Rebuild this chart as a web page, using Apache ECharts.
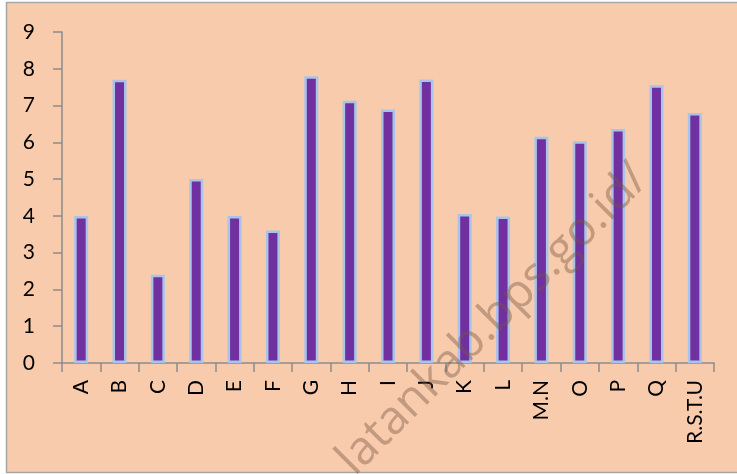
<!DOCTYPE html>
<html>
<head>
<meta charset="utf-8">
<script src="https://cdn.jsdelivr.net/npm/echarts@6/dist/echarts.min.js"></script>
<style>
html, body { margin: 0; padding: 0; background: #ffffff; }
#chart { width: 737px; height: 474px; }
</style>
</head>
<body>
<div id="chart"></div>
<script>
// categories along the x axis
const categories = ['A', 'B', 'C', 'D', 'E', 'F', 'G', 'H', 'I', 'J', 'K', 'L', 'M.N', 'O', 'P', 'Q', 'R.S.T.U'];
// bar values
const values = [4.0, 7.7, 2.4, 5.0, 4.0, 3.6, 7.8, 7.13, 6.89, 7.71, 4.05, 3.98, 6.15, 6.03, 6.36, 7.55, 6.8];
const watermark = 'latankab.bps.go.id/';

let chart = echarts.init(document.getElementById('chart'));

let option = {
    animation: false,
    backgroundColor: '#ffffff',
    graphic: [
        {
            type: 'rect',
            z: -10,
            silent: true,
            shape: { x: 6.5, y: 2.5, width: 740, height: 470 },
            style: { fill: '#F8CBAD', stroke: '#a6a6a6', lineWidth: 1.5 }
        },
        {
            type: 'text',
            z: 10,
            silent: true,
            x: 362,
            y: 484,
            rotation: Math.PI / 4,
            style: {
                text: watermark,
                font: '47px "Open Sans"',
                fill: 'rgba(120, 85, 65, 0.42)',
                align: 'left',
                verticalAlign: 'bottom'
            }
        }
    ],
    grid: { left: 62, right: 23, top: 32, bottom: 111, containLabel: false },
    xAxis: {
        type: 'category',
        data: categories,
        axisLine: { lineStyle: { color: '#8c8c8c', width: 1.5 } },
        axisTick: { show: true, length: 9, alignWithLabel: false, lineStyle: { color: '#8c8c8c', width: 1.5 } },
        axisLabel: {
            rotate: 90,
            interval: 0,
            margin: 17,
            fontFamily: 'Lato',
            fontSize: 21,
            color: '#000000'
        }
    },
    yAxis: {
        type: 'value',
        min: 0,
        max: 9,
        interval: 1,
        splitLine: { show: false },
        axisLine: { show: true, lineStyle: { color: '#8c8c8c', width: 1.5 } },
        axisTick: { show: true, length: 9, lineStyle: { color: '#8c8c8c', width: 1.5 } },
        axisLabel: {
            margin: 27,
            fontFamily: 'Lato',
            fontSize: 21,
            color: '#000000'
        }
    },
    series: [
        {
            type: 'bar',
            data: values,
            barWidth: 14,
            itemStyle: {
                color: '#7030A0',
                borderColor: '#a9c4eb',
                borderWidth: 2.5
            }
        }
    ]
};

chart.setOption(option);
</script>
</body>
</html>
